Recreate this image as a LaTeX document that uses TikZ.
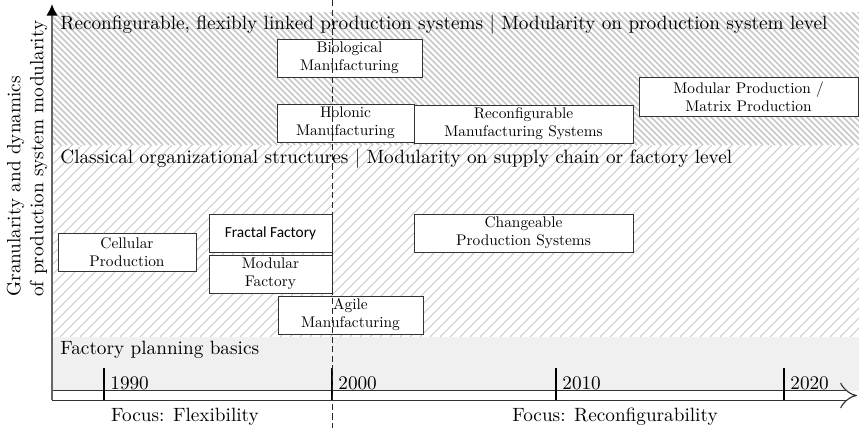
\documentclass[tikz,border=0pt]{standalone}
\usepackage{fontspec}
\newfontfamily\boxfont{lmroman10-regular}[Extension=.otf]
\newfontfamily\calib{Carlito}
\usetikzlibrary{arrows.meta}
\definecolor{bandgray}{HTML}{F0F0F0}
\tikzset{
  boxnode/.style={draw=black!80, line width=0.5pt, fill=white, inner sep=0pt,
    align=center, font=\boxfont\fontsize{8}{9.4}\selectfont},
  sansbox/.style={boxnode, font=\calib\fontsize{8}{9.4}\selectfont},
  boxsize/.style 2 args={minimum width=#1*0.52pt, minimum height=#2*0.52pt},
  bandlabel/.style={inner sep=0pt, anchor=base west, font=\fontsize{10}{12}\selectfont},
  yearlabel/.style={inner sep=0pt, anchor=base west, font=\fontsize{10}{12}\selectfont},
  focuslabel/.style={inner sep=0pt, anchor=base, font=\fontsize{10}{12}\selectfont},
  densehatch/.style={line width=0.9pt, black!22},
  widehatch/.style={line width=0.4pt, black!22},
  tickline/.style={line width=0.6pt, black},
  dashline/.style={line width=0.5pt, black!85, dash pattern=on 3.2pt off 1.8pt},
}
\begin{document}
\begin{tikzpicture}[x=0.52pt, y=-0.52pt]
\useasboundingbox (0,0) rectangle (859,428);

% upper band: dense hatching
\begin{scope}
  \clip (53,12) rectangle (859,145);
  \foreach \i in {-84,-78,...,860} \draw[densehatch] (\i,12) -- ++(133,133);
\end{scope}

% middle band: wide hatching
\begin{scope}
  \clip (53,145) rectangle (859,337);
  \foreach \i in {-140,-130,...,860} \draw[widehatch] (\i,337) -- ++(192,-192);
\end{scope}

% lower band: plain grey
\fill[bandgray] (53,337) rectangle (859,391);

% band titles
\node[bandlabel] (lblA) at (60,29) {Reconfigurable, flexibly linked production systems | Modularity on production system level};
\node[bandlabel] (lblB) at (60,163) {Classical organizational structures | Modularity on supply chain or factory level};
\node[bandlabel] (lblC) at (60,354) {Factory planning basics};

% axes
\coordinate (origin) at (52,400);
\coordinate (ytip) at (52,4);
\coordinate (xstart) at (52,395.5);
\coordinate (xtip) at (857,395.5);
\draw[double, double distance=4.2pt, line width=0.6pt, black!80, -{Implies}] (xstart) -- (xtip);
\draw[line width=1pt, black!60, -{Latex[length=6pt,width=6pt,black]}] (origin) -- (ytip);

% decade ticks
\foreach \x/\yr in {104/1990, 332/2000, 556/2010, 784/2020} {
  \coordinate (t\yr a) at (\x,368);
  \coordinate (t\yr b) at (\x,400);
  \draw[tickline] (t\yr a) -- (t\yr b);
  \node[yearlabel] (y\yr) at (\x+6,389) {\yr};
}

\node[focuslabel] (focA) at (185,421) {Focus: Flexibility};
\node[focuslabel] (focB) at (615,421) {Focus: Reconfigurability};

\node[rotate=90, align=left, anchor=west, inner sep=0pt, font=\fontsize{10}{12}\selectfont]
  (ylab) at (27,297) {Granularity and dynamics\\of production system modularity};

% concept boxes
\node[boxnode, boxsize={145}{38}] (bio) at (349.5,58) {Biological\\Manufacturing};
\node[boxnode, boxsize={137}{38}] (holo) at (345.5,123) {Holonic\\Manufacturing};
\node[boxnode, boxsize={219}{38}] (rms) at (523.5,124) {Reconfigurable\\Manufacturing Systems};
\node[boxnode, boxsize={219}{39}] (matrix) at (748.5,96.5) {Modular Production /\\Matrix Production};
\node[boxnode, boxsize={138}{38}] (cell) at (127,252) {Cellular\\Production};
\node[sansbox, boxsize={123}{38}] (fractal) at (270.5,233) {Fractal Factory};
\node[boxnode, boxsize={123}{38}] (modfac) at (270.5,274) {Modular\\Factory};
\node[boxnode, boxsize={145}{38}] (agile) at (350.5,315) {Agile\\Manufacturing};
\node[boxnode, boxsize={219}{38}] (change) at (523.5,233) {Changeable\\Production Systems};

% divider at the year 2000
\coordinate (dtop) at (332,0);
\coordinate (dbot) at (332,428);
\draw[dashline] (dtop) -- (dbot);
\end{tikzpicture}
\end{document}
